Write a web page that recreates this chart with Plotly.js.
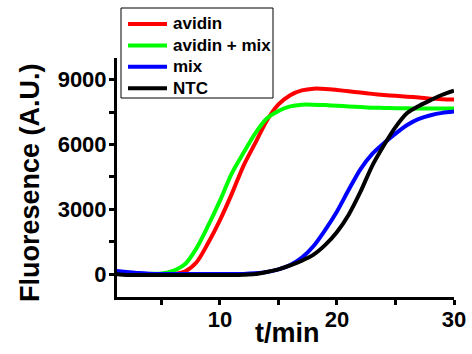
<!DOCTYPE html>
<html><head><meta charset="utf-8">
<script src="https://cdn.plot.ly/plotly-3.0.1.min.js"></script>
<style>html,body{margin:0;padding:0;background:#fff}#c{width:472px;height:354px}</style>
</head><body><div id="c"></div>
<script>
const time = [1,2,3,4,5,6,7,8,9,10,11,12,13,14,15,16,17,18,19,20,21,22,23,24,25,26,27,28,29,30];
const avidin = [50,30,0,-20,-30,0,120,550,1450,2500,3700,5000,6050,7100,7850,8280,8500,8580,8570,8520,8460,8400,8340,8290,8250,8210,8170,8120,8090,8075];
const avidinMix = [50,30,20,10,30,150,450,1200,2250,3400,4650,5600,6500,7200,7550,7760,7840,7840,7820,7790,7760,7730,7700,7690,7680,7670,7665,7660,7660,7660];
const mix = [150,100,50,20,0,0,0,0,0,0,0,10,40,100,220,415,760,1300,2050,2900,3900,4850,5550,6050,6500,6900,7180,7350,7460,7520];
const ntc = [0,-40,-40,-40,-40,-40,-40,-40,-40,-40,-40,-30,0,100,220,400,620,900,1350,1950,2750,3800,5000,5950,6800,7450,7780,8050,8300,8490];
const names = ["avidin","avidin + mix","mix","NTC"];
const colors = ["#ff0000","#00ff00","#0000ff","#000000"];
const series = [avidin, avidinMix, mix, ntc];
const font = "Arial, 'Liberation Sans', sans-serif";
const W = 472, H = 354, M = {l:117, r:18, t:58, b:57};
const pw = W - M.l - M.r, ph = H - M.t - M.b;
const px = x => (x - M.l) / pw;
const py = y => (H - M.b - y) / ph;

const traces = series.map((s,i)=>({x:time,y:s,name:names[i],type:"scatter",mode:"lines",showlegend:false,
  line:{color:colors[i],width:4,shape:"spline",smoothing:0.8}}));

// manual legend (box, line samples, labels) built from names/colors
const shapes = [{type:"rect",xref:"paper",yref:"paper",x0:px(121),x1:px(273),y0:py(98),y1:py(8),
  line:{color:"#000",width:1},fillcolor:"rgba(255,255,255,0)",layer:"above"}];
const annotations = [];
names.forEach((n,i)=>{
  const yy = py(24 + i*21.4);
  shapes.push({type:"line",xref:"paper",yref:"paper",x0:px(128),x1:px(167),y0:yy,y1:yy,
    line:{color:colors[i],width:4},layer:"above"});
  annotations.push({text:n,xref:"paper",yref:"paper",x:px(171),y:yy,xanchor:"left",yanchor:"middle",
    showarrow:false,font:{family:font,size:17,weight:"bold",color:"#000"}});
});
annotations.push(
  {text:"Fluoresence (A.U.)",xref:"paper",yref:"paper",x:px(30),y:py(183),xanchor:"center",yanchor:"middle",
   textangle:-90,showarrow:false,font:{family:font,size:27,weight:"bold",color:"#000"}},
  {text:"t/min",xref:"paper",yref:"paper",x:px(287),y:py(333),xanchor:"center",yanchor:"middle",
   showarrow:false,font:{family:font,size:27,weight:"bold",color:"#000"}}
);

const layout = {
  width:W,height:H,
  margin:M,
  paper_bgcolor:"#fff",plot_bgcolor:"#fff",
  font:{family:font,color:"#000"},
  showlegend:false,
  xaxis:{range:[1.2,30],showgrid:false,zeroline:false,showline:true,linewidth:3,linecolor:"#000",
    ticks:"outside",ticklen:5,tickwidth:3,tickcolor:"#000",tick0:0,dtick:10,ticklabelstandoff:-4,
    minor:{ticks:"outside",ticklen:5,tickwidth:3,dtick:5,tickcolor:"#000",showgrid:false},
    tickfont:{family:font,size:22,weight:"bold"}},
  yaxis:{range:[-1060,10000],showgrid:false,zeroline:false,showline:true,linewidth:3,linecolor:"#000",
    ticks:"outside",ticklen:5,tickwidth:3,tickcolor:"#000",tick0:0,dtick:3000,ticklabelstandoff:-2,
    exponentformat:"none",tickformat:"d",
    minor:{ticks:"outside",ticklen:5,tickwidth:3,dtick:1500,tickcolor:"#000",showgrid:false},
    tickfont:{family:font,size:22,weight:"bold"}},
  shapes:shapes,
  annotations:annotations
};
Plotly.newPlot("c",traces,layout,{displayModeBar:false,staticPlot:true});
</script></body></html>
